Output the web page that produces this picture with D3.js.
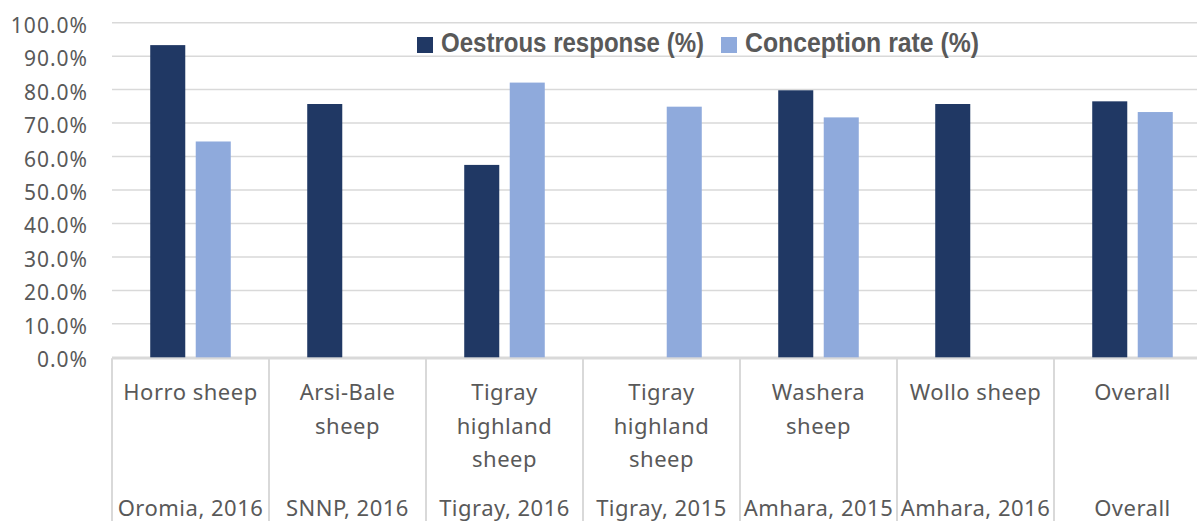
<!DOCTYPE html>
<html>
<head>
<meta charset="utf-8">
<script src="https://cdn.jsdelivr.net/npm/d3@7"></script>
<style>
  body { margin: 0; background: #fff; }
  svg { display: block; }
</style>
</head>
<body>
<div class="canvas"></div>
<script>
// data
const breeds = [
  ["Horro sheep"],
  ["Arsi-Bale", "sheep"],
  ["Tigray", "highland", "sheep"],
  ["Tigray", "highland", "sheep"],
  ["Washera", "sheep"],
  ["Wollo sheep"],
  ["Overall"]
];
const regions = ["Oromia, 2016", "SNNP, 2016", "Tigray, 2016", "Tigray, 2015", "Amhara, 2015", "Amhara, 2016", "Overall"];
const seriesNames = ["Oestrous response (%)", "Conception rate (%)"];
const oestrous = [93.3, 75.7, 57.5, null, 79.8, 75.7, 76.5];
const conception = [64.5, null, 82.1, 74.9, 71.7, null, 73.3];
const yTicks = [0, 10, 20, 30, 40, 50, 60, 70, 80, 90, 100];

const dims = { width: 1197, height: 521 };
const plot = { left: 112, right: 1211, top: 22.7, bottom: 357.3 };
const colour = d3.scaleOrdinal().domain(seriesNames).range(["#203864", "#8faadc"]);
const textCol = "#595959";
const gridCol = "#d9d9d9";

const svg = d3.select('.canvas')
  .append('svg')
  .attr('width', dims.width)
  .attr('height', dims.height);

const ids = d3.range(breeds.length);

// scales
const x0 = d3.scaleBand()
  .domain(ids)
  .range([plot.left, plot.right]);

const x1 = d3.scaleBand()
  .domain(seriesNames)
  .range([0, x0.bandwidth()])
  .paddingInner(0.23)
  .paddingOuter(0.84);

const y = d3.scaleLinear()
  .domain([0, 100])
  .range([plot.bottom, plot.top]);

// gridlines
svg.append('g')
  .selectAll('line')
  .data(yTicks)
  .enter().append('line')
    .attr('x1', plot.left)
    .attr('x2', plot.right)
    .attr('y1', d => y(d))
    .attr('y2', d => y(d))
    .attr('stroke', gridCol)
    .attr('stroke-width', 1.5);

// y tick labels
svg.append('g')
  .selectAll('text')
  .data(yTicks)
  .enter().append('text')
    .attr('x', 88)
    .attr('y', d => y(d) + 2)
    .attr('text-anchor', 'end')
    .attr('dominant-baseline', 'central')
    .attr('font-family', 'Noto Sans')
    .attr('font-size', 21)
    .attr('letter-spacing', 1)
    .attr('fill', textCol)
    .text(d => d3.format('.1f')(d) + '%');

// bars
const rows = ids.map(i => ({ i, values: [oestrous[i], conception[i]] }));

const groups = svg.append('g')
  .selectAll('g')
  .data(rows)
  .enter().append('g')
    .attr('transform', d => `translate(${x0(d.i)}, 0)`);

groups.selectAll('rect')
  .data(d => seriesNames.map((name, k) => ({ name, value: d.values[k] })).filter(v => v.value != null))
  .enter().append('rect')
    .attr('x', d => x1(d.name))
    .attr('width', x1.bandwidth())
    .attr('y', d => y(d.value))
    .attr('height', d => y(0) - y(d.value))
    .attr('fill', d => colour(d.name));

// category axis: baseline and separators
svg.append('line')
  .attr('x1', plot.left).attr('x2', plot.right)
  .attr('y1', plot.bottom + 1.5).attr('y2', plot.bottom + 1.5)
  .attr('stroke', gridCol).attr('stroke-width', 1.5);

svg.append('g')
  .selectAll('line')
  .data(d3.range(breeds.length + 1))
  .enter().append('line')
    .attr('x1', i => plot.left + i * x0.step())
    .attr('x2', i => plot.left + i * x0.step())
    .attr('y1', plot.bottom + 1)
    .attr('y2', dims.height)
    .attr('stroke', gridCol)
    .attr('stroke-width', 2);

// first level labels
const lab1 = svg.append('g')
  .selectAll('text')
  .data(ids)
  .enter().append('text')
    .attr('text-anchor', 'middle')
    .attr('font-family', 'Noto Sans')
    .attr('font-size', 22)
    .attr('letter-spacing', 0.5)
    .attr('fill', textCol);

lab1.selectAll('tspan')
  .data(i => breeds[i].map(line => ({ i, line })))
  .enter().append('tspan')
    .attr('x', d => x0(d.i) + x0.bandwidth() / 2)
    .attr('y', (d, k) => 400 + k * 33.5)
    .text(d => d.line);

// second level labels
svg.append('g')
  .selectAll('text')
  .data(ids)
  .enter().append('text')
    .attr('x', i => x0(i) + x0.bandwidth() / 2)
    .attr('y', 516)
    .attr('text-anchor', 'middle')
    .attr('font-family', 'Noto Sans')
    .attr('font-size', 22)
    .attr('letter-spacing', 0.5)
    .attr('fill', textCol)
    .text(i => regions[i]);

// legend
const legend = svg.append('g')
  .attr('transform', 'translate(417, 37)');

const legendX = [0, 304];
const legendW = [263, 234];
const items = legend.selectAll('g')
  .data(seriesNames)
  .enter().append('g')
    .attr('transform', (d, k) => `translate(${legendX[k]}, 0)`);

items.append('rect')
  .attr('width', 16)
  .attr('height', 16)
  .attr('fill', d => colour(d));

items.append('text')
  .attr('x', 24)
  .attr('y', 15)
  .attr('font-family', 'Liberation Sans')
  .attr('font-weight', 'bold')
  .attr('font-size', 28)
  .attr('textLength', (d, k) => legendW[k])
  .attr('lengthAdjust', 'spacingAndGlyphs')
  .attr('fill', textCol)
  .text(d => d);
</script>
</body>
</html>
